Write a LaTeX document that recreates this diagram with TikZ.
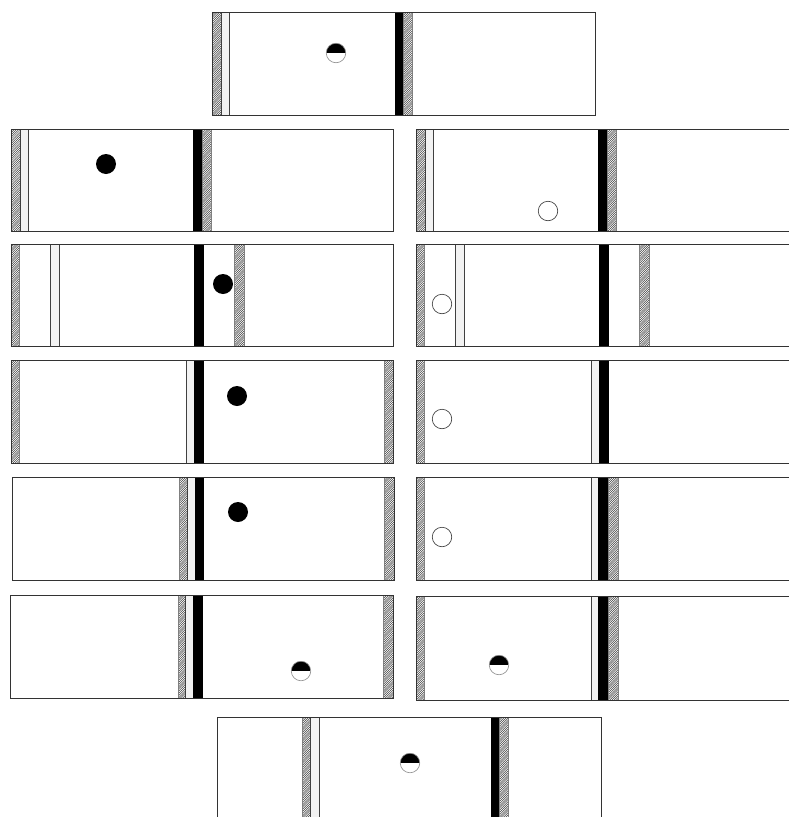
\documentclass[tikz,border=0pt]{standalone}
\usepackage{tikz}
\usetikzlibrary{patterns}
\pgfdeclarepatternformonly{densehatch}{\pgfqpoint{-1pt}{-1pt}}{\pgfqpoint{3pt}{3pt}}{\pgfqpoint{2.2pt}{2.2pt}}
{
  \pgfsetlinewidth{0.5pt}
  \pgfpathmoveto{\pgfqpoint{0pt}{0pt}}
  \pgfpathlineto{\pgfqpoint{2.3pt}{2.3pt}}
  \pgfusepath{stroke}
}

\begin{document}
\begin{tikzpicture}[x=1pt, y=-1pt,
    box/.style={draw=black!80, line width=0.8pt},
    wall/.style={pattern=densehatch, pattern color=black!75, draw=black!50, line width=0.6pt},
    film/.style={fill=black!5, draw=black!75, line width=0.6pt},
    plate/.style={fill=black, draw=black, line width=0.6pt},
    ball/.style={circle, inner sep=0pt, minimum size=19.5pt},
    fullball/.style={ball, fill=black, minimum size=20pt},
    emptyball/.style={ball, draw=black!80, line width=0.6pt},
    halfball/.style={ball, draw=black!45, line width=0.6pt,
        path picture={\fill[black] (path picture bounding box.north west) rectangle (path picture bounding box.east);}}]
    \useasboundingbox (0,0) rectangle (789,817);
    \clip (0,0) rectangle (789,817);
    \fill[white] (0,0) rectangle (789,817);

    \draw[wall](212,12) rectangle (221,115);
    \draw[film](221,12) rectangle (229,115);
    \draw[plate](395,12) rectangle (403,115);
    \draw[wall](403,12) rectangle (412,115);
    \draw[box](212,12) rectangle (595,115);
    \node[halfball](a0) at (336,53){};

    \draw[wall](11,129) rectangle (20,231);
    \draw[film](20,129) rectangle (28,231);
    \draw[plate](193,129) rectangle (202,231);
    \draw[wall](202,129) rectangle (211,231);
    \draw[box](11,129) rectangle (393,231);
    \node[fullball](l1) at (106,164){};

    \draw[wall](416,129) rectangle (425,231);
    \draw[film](425,129) rectangle (433,231);
    \draw[plate](598,129) rectangle (607,231);
    \draw[wall](607,129) rectangle (616,231);
    \draw[box](416,129) rectangle (798,231);
    \node[emptyball](r1) at (548,211){};

    \draw[wall](11,244) rectangle (19,346);
    \draw[film](50,244) rectangle (59,346);
    \draw[plate](194,244) rectangle (203,346);
    \draw[wall](234,244) rectangle (244,346);
    \draw[box](11,244) rectangle (393,346);
    \node[fullball](l2) at (223,284){};

    \draw[wall](416,244) rectangle (424,346);
    \draw[film](455,244) rectangle (464,346);
    \draw[plate](599,244) rectangle (608,346);
    \draw[wall](639,244) rectangle (649,346);
    \draw[box](416,244) rectangle (798,346);
    \node[emptyball](r2) at (442,304){};

    \draw[wall](11,360) rectangle (19,463);
    \draw[film](186,360) rectangle (194,463);
    \draw[plate](194,360) rectangle (203,463);
    \draw[wall](384,360) rectangle (393,463);
    \draw[box](11,360) rectangle (393,463);
    \node[fullball](l3) at (237,396){};

    \draw[wall](416,360) rectangle (424,463);
    \draw[film](591,360) rectangle (599,463);
    \draw[plate](599,360) rectangle (608,463);
    \draw[box](416,360) rectangle (798,463);
    \node[emptyball](r3) at (442,419){};

    \draw[wall](179,477) rectangle (187,580);
    \draw[film](187,477) rectangle (195,580);
    \draw[plate](195,477) rectangle (203,580);
    \draw[wall](384,477) rectangle (394,580);
    \draw[box](12,477) rectangle (394,580);
    \node[fullball](l4) at (238,512){};

    \draw[wall](416,477) rectangle (424,580);
    \draw[film](591,477) rectangle (598,580);
    \draw[plate](598,477) rectangle (608,580);
    \draw[wall](608,477) rectangle (618,580);
    \draw[box](416,477) rectangle (798,580);
    \node[emptyball](r4) at (442,537){};

    \draw[wall](178,595) rectangle (185,698);
    \draw[film](185,595) rectangle (193,698);
    \draw[plate](193,595) rectangle (202,698);
    \draw[wall](383,595) rectangle (393,698);
    \draw[box](10,595) rectangle (393,698);
    \node[halfball](l5) at (301,671){};

    \draw[wall](416,596) rectangle (424,700);
    \draw[film](591,596) rectangle (598,700);
    \draw[plate](598,596) rectangle (608,700);
    \draw[wall](608,596) rectangle (618,700);
    \draw[box](416,596) rectangle (798,700);
    \node[halfball](r5) at (499,665){};

    \draw[wall](302,717) rectangle (310,820);
    \draw[film](310,717) rectangle (319,820);
    \draw[plate](491,717) rectangle (499,820);
    \draw[wall](499,717) rectangle (508,820);
    \draw[box](217,717) rectangle (601,820);
    \node[halfball](a6) at (410,763){};
\end{tikzpicture}
\end{document}
